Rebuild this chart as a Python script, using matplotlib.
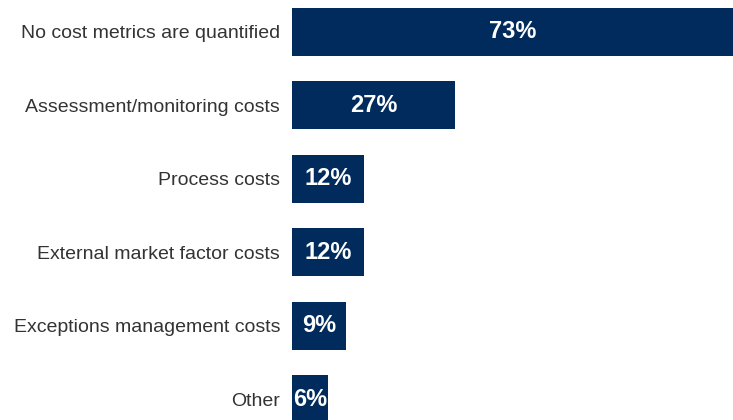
import matplotlib
matplotlib.use("Agg")
import matplotlib.pyplot as plt

categories = ["No cost metrics are quantified", "Assessment/monitoring costs", "Process costs",
              "External market factor costs", "Exceptions management costs", "Other"]
values = [73, 27, 12, 12, 9, 6]
value_labels = ["73%", "27%", "12%", "12%", "9%", "6%"]

W, H = 733, 420
fig = plt.figure(figsize=(W/100, H/100), dpi=100)
ax = fig.add_axes([292/W, 0, 441/W, 1])
color = "#002B5C"
ypos = list(range(len(categories)))
ax.barh(ypos, values, height=0.65, color=color)
ax.set_xlim(0, 73)
ax.set_ylim((420-31.8)/73.5, -31.8/73.5)
ax.set_yticks(ypos)
ax.set_yticklabels(categories, fontsize=14, color="#333333", fontfamily="Liberation Sans")
ax.tick_params(axis="y", length=0, pad=8.6)
ax.set_xticks([])
for s in ax.spines.values():
    s.set_visible(False)
for y, v, lab in zip(ypos, values, value_labels):
    ax.text(v/2, y, lab, ha="center", va="center", color="white", fontsize=17,
            fontweight="bold", fontfamily="Liberation Sans")
fig.savefig("out.png", dpi=100)
